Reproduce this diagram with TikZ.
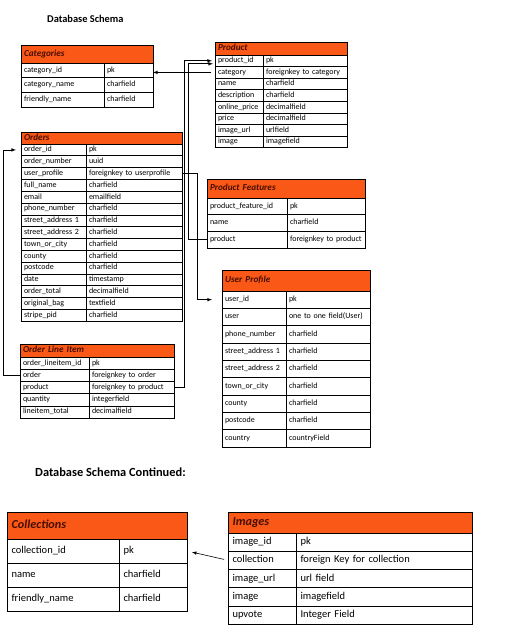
\documentclass[tikz,border=0pt]{standalone}
\usepackage{fontspec}
\setmainfont{Carlito}
\usepackage{tikz}
\usepackage{xcolor}

\definecolor{headorange}{RGB}{250,88,22}
\definecolor{headtext}{RGB}{70,14,0}

\tikzset{
  cell/.style={draw, line width=0.6pt, anchor=north west, outer sep=0pt,
    inner xsep=3pt, inner ysep=0pt, align=left, execute at begin node=\strut},
  head/.style={cell, fill=headorange, text=headtext,
    execute at begin node=\bfseries\itshape},
  smallcell/.style={cell, font=\fontsize{8}{9.6}\selectfont},
  smallhead/.style={head, font=\fontsize{9.2}{10.4}\selectfont},
  bigcell/.style={cell, inner xsep=4.5pt, font=\fontsize{10.5}{12.6}\selectfont},
  bighead/.style={head, inner xsep=4.5pt, font=\fontsize{12.2}{14.4}\selectfont},
  title/.style={anchor=base west, inner sep=0pt},
  link/.style={-latex, line width=0.6pt},
}

\begin{document}
\begin{tikzpicture}[x=1pt, y=-1pt]

    \useasboundingbox (0,0) rectangle (506,639);

    \node[title, font=\bfseries\fontsize{10.4}{12}\selectfont] (schema) at (47,22.7) {Database Schema};

    \node[smallhead, text width=126pt, minimum height=18pt] (cat) at (21,45) {Categories};
    \foreach \fld/\typ [count=\i] in {category\_id/pk, category\_name/charfield,
      friendly\_name/charfield}
    {
      \node[smallcell, text width=77pt, minimum height=14.7pt] (catf\i) at ({21},{63+14.7*(\i-1)}) {\fld};
      \node[smallcell, text width=43pt, minimum height=14.7pt] (catt\i) at (catf\i.north east) {\typ};
    }

    \node[smallhead, text width=126pt, minimum height=13pt] (prod) at (215,42) {Product};
    \foreach \fld/\typ [count=\i] in {product\_id/pk, category/foreignkey to category,
      name/charfield, description/charfield, online\_price/decimalfield,
      price/decimalfield, image\_url/urlfield, image/imagefield}
    {
      \node[smallcell, text width=42pt, minimum height=11.6pt] (prodf\i) at ({215},{55+11.6*(\i-1)}) {\fld};
      \node[smallcell, text width=78pt, minimum height=11.6pt] (prodt\i) at (prodf\i.north east) {\typ};
    }

    \node[smallhead, text width=155pt, minimum height=12pt] (ord) at (21,132) {Orders};
    \foreach \fld/\typ [count=\i] in {order\_id/pk, order\_number/uuid,
      user\_profile/foreignkey to userprofile, full\_name/charfield, email/emailfield,
      phone\_number/charfield, street\_address 1/charfield, street\_address 2/charfield,
      town\_or\_city/charfield, county/charfield, postcode/charfield, date/timestamp,
      order\_total/decimalfield, original\_bag/textfield, stripe\_pid/charfield}
    {
      \node[smallcell, text width=59pt, minimum height=11.8pt] (ordf\i) at ({21},{144+11.8*(\i-1)}) {\fld};
      \node[smallcell, text width=90pt, minimum height=11.8pt] (ordt\i) at (ordf\i.north east) {\typ};
    }

    \node[smallhead, text width=152pt, minimum height=19pt] (pf) at (207,179) {Product Features};
    \foreach \fld/\typ [count=\i] in {product\_feature\_id/pk, name/charfield,
      product/foreignkey to product}
    {
      \node[smallcell, text width=74pt, minimum height=16.67pt] (pff\i) at ({207},{198+16.67*(\i-1)}) {\fld};
      \node[smallcell, text width=72pt, minimum height=16.67pt] (pft\i) at (pff\i.north east) {\typ};
    }

    \node[smallhead, text width=142pt, minimum height=21pt] (up) at (222,270) {User Profile};
    \foreach \fld/\typ [count=\i] in {user\_id/pk, user/one to one field(User),
      phone\_number/charfield, street\_address 1/charfield, street\_address 2/charfield,
      town\_or\_city/charfield, county/charfield, postcode/charfield, country/countryField}
    {
      \node[smallcell, text width=58pt, minimum height=17.33pt] (upf\i) at ({222},{291+17.33*(\i-1)}) {\fld};
      \node[smallcell, text width=78pt, minimum height=17.33pt] (upt\i) at (upf\i.north east) {\typ};
    }

    \node[smallhead, text width=148pt, minimum height=13pt] (oli) at (20,344) {Order Line Item};
    \foreach \fld/\typ [count=\i] in {order\_lineitem\_id/pk, order/foreignkey to order,
      product/foreignkey to product, quantity/integerfield, lineitem\_total/decimalfield}
    {
      \node[smallcell, text width=63pt, minimum height=12.2pt] (olif\i) at ({20},{357+12.2*(\i-1)}) {\fld};
      \node[smallcell, text width=79pt, minimum height=12.2pt] (olit\i) at (olif\i.north east) {\typ};
    }

    \node[title, font=\bfseries\fontsize{12.4}{14.8}\selectfont] (cont) at (35,476.5) {Database Schema Continued:};

    \node[bighead, text width=171pt, minimum height=27pt] (col) at (7,512) {Collections};
    \foreach \fld/\typ [count=\i] in {collection\_id/pk, name/charfield,
      friendly\_name/charfield}
    {
      \node[bigcell, text width=103pt, minimum height=24pt] (colf\i) at ({7},{539+24*(\i-1)}) {\fld};
      \node[bigcell, text width=59pt, minimum height=24pt] (colt\i) at (colf\i.north east) {\typ};
    }

    \node[bighead, text width=235pt, minimum height=21pt] (img) at (228,512) {Images};
    \foreach \fld/\typ [count=\i] in {image\_id/pk, collection/foreign Key for collection,
      image\_url/url field, image/imagefield, upvote/Integer Field}
    {
      \node[bigcell, text width=59pt, minimum height=18.2pt] (imgf\i) at ({228},{533+18.2*(\i-1)}) {\fld};
      \node[bigcell, text width=167pt, minimum height=18.2pt] (imgt\i) at (imgf\i.north east) {\typ};
    }

    \draw[link, shorten <=4pt] (prodf2.west) -- (prodf2.west -| catt1.east);
    \draw[link, shorten >=3pt] (olit3.east) -- ++(10.5,0) |- (prodf1.west);
    \draw[link, shorten >=2pt] (pff3.west) -- ++(-19,0) |- ([yshift=-3pt]prodf1.west);
    \draw[link, shorten >=10pt] (ordt3.east) -- ++(15,0) |- (upf1.west);
    \draw[link, shorten >=5pt] (olif2.west) -- ++(-17,0) |- (ordf1.west);
    \draw[link, shorten <=4pt, shorten >=5pt] (imgf2.west) -- (colt1.east);

\end{tikzpicture}
\end{document}
